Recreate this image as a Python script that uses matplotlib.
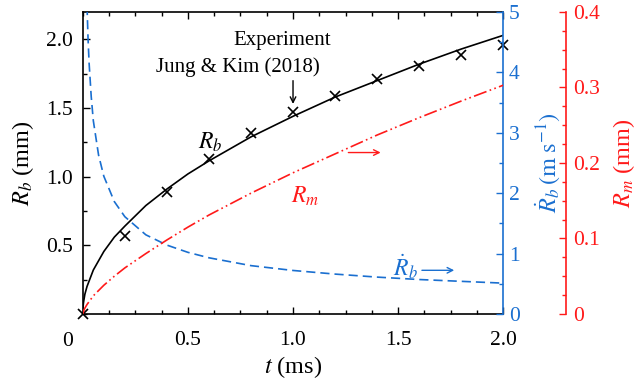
import matplotlib.pyplot as plt
from matplotlib.ticker import MultipleLocator

plt.rcParams['font.family'] = 'Liberation Serif'
plt.rcParams['mathtext.fontset'] = 'stix'

# bubble radius R_b (mm), model curve
t = [0, 0.001, 0.003, 0.005, 0.01, 0.02, 0.05, 0.1, 0.15, 0.2, 0.3, 0.4,
     0.5, 0.6, 0.8, 1.0, 1.2, 1.4, 1.6, 1.8, 2.0]
rb = [0, 0.046, 0.079, 0.10, 0.145, 0.20, 0.32, 0.455, 0.56, 0.64, 0.79, 0.91,
      1.02, 1.115, 1.29, 1.44, 1.58, 1.70, 1.82, 1.93, 2.03]
# R_m (mm), right red axis
rm = [0, 0.0012, 0.0026, 0.0048, 0.0078, 0.0125, 0.024, 0.038, 0.050, 0.061, 0.080, 0.098,
      0.115, 0.131, 0.160, 0.187, 0.212, 0.237, 0.260, 0.282, 0.303]
# bubble growth rate dR_b/dt (m/s)
t_dot = [0.02, 0.025, 0.03, 0.04, 0.05, 0.075, 0.1, 0.15, 0.2, 0.3, 0.4, 0.5,
         0.6, 0.8, 1.0, 1.2, 1.4, 1.6, 1.8, 2.0]
rb_dot = [5.1, 4.55, 4.15, 3.6, 3.2, 2.63, 2.28, 1.86, 1.61, 1.31, 1.14, 1.02,
          0.93, 0.80, 0.72, 0.66, 0.61, 0.57, 0.54, 0.51]
# Jung & Kim (2018) experiment
t_exp = [0, 0.2, 0.4, 0.6, 0.8, 1.0, 1.2, 1.4, 1.6, 1.8, 2.0]
rb_exp = [0, 0.57, 0.89, 1.13, 1.32, 1.47, 1.59, 1.71, 1.81, 1.89, 1.96]

blue = '#1a6fd0'
red = '#ff1a1a'
tfs = 15.5   # tick label size
lfs = 17.5   # axis label size

fig = plt.figure(figsize=(6.37, 3.81), dpi=100)
ax = fig.add_axes([0.130, 0.176, 0.660, 0.7925])
ax2 = ax.twinx()
ax3 = ax.twinx()

ax.plot(t, rb, color='black', lw=1.2)
ax.plot(t_exp, rb_exp, ls='none', marker='x', ms=7, mew=1.2, color='black', clip_on=False)
ax2.plot(t_dot, rb_dot, color=blue, lw=1.2, ls=(0, (5.5, 3)))
ax3.plot(t, rm, color=red, lw=1.2, ls=(0, (8, 2, 1, 2, 1, 2)))

ax.set_xlim(0, 2.0)
ax.set_ylim(0, 2.2)
ax2.set_ylim(0, 5)
ax3.set_ylim(0, 0.4)

ax.xaxis.set_minor_locator(MultipleLocator(0.125))
ax.yaxis.set_minor_locator(MultipleLocator(0.25))
ax.set_xticks([0.5, 1.0, 1.5, 2.0])
ax.set_yticks([0.5, 1.0, 1.5, 2.0])
ax.set_xticklabels(['0.5', '1.0', '1.5', '2.0'])
ax.set_yticklabels(['0.5', '1.0', '1.5', '2.0'])
ax2.yaxis.set_major_locator(MultipleLocator(1))
ax2.yaxis.set_minor_locator(MultipleLocator(0.5))
ax3.yaxis.set_minor_locator(MultipleLocator(0.025))
ax3.set_yticks([0, 0.1, 0.2, 0.3, 0.4])
ax3.set_yticklabels(['0', '0.1', '0.2', '0.3', '0.4'])

ax.tick_params(which='both', direction='in', top=True, right=False, labelsize=tfs, width=1)
ax.tick_params(which='major', length=5)
ax.tick_params(which='minor', length=3)
ax.tick_params(axis='x', pad=12)
ax.tick_params(axis='y', pad=7)
ax2.tick_params(which='both', direction='in', colors=blue, labelsize=tfs, width=1, pad=4)
ax2.tick_params(which='major', length=5)
ax2.tick_params(which='minor', length=3)
ax3.tick_params(which='both', direction='in', colors=red, labelsize=tfs, width=1, pad=5)
ax3.tick_params(which='major', length=5)
ax3.tick_params(which='minor', length=3)

for s in ['left', 'bottom', 'top']:
    ax.spines[s].set_linewidth(1.2)
ax.spines['right'].set_visible(False)
for s in ['left', 'bottom', 'top']:
    ax2.spines[s].set_visible(False)
    ax3.spines[s].set_visible(False)
ax2.spines['right'].set_color(blue)
ax2.spines['right'].set_linewidth(1.2)
ax3.spines['right'].set_position(('axes', 1.15))
ax3.spines['right'].set_color(red)
ax3.spines['right'].set_linewidth(1.2)

ax.text(-0.036, -0.092, '0', transform=ax.transAxes, fontsize=tfs, ha='center', va='center')

ax.set_xlabel('$t$ (ms)', fontsize=lfs, labelpad=3)
ax.set_ylabel('$R_b$ (mm)', fontsize=lfs, labelpad=7)
ax2.set_ylabel(r'$\dot{R}_b\,(\mathrm{m\ s^{-1}})$', fontsize=lfs, color=blue, labelpad=10)
ax3.set_ylabel('$R_m$ (mm)', fontsize=lfs, color=red, labelpad=8)

# annotations
ax.text(0.95, 1.99, 'Experiment', fontsize=15, ha='center', va='center')
ax.text(0.74, 1.80, 'Jung & Kim (2018)', fontsize=15, ha='center', va='center')
ax.annotate('', xy=(1.0, 1.51), xytext=(1.0, 1.72),
            arrowprops=dict(arrowstyle='->', color='black', lw=1.0))
ax.text(0.605, 1.25, '$R_b$', fontsize=17, ha='center', va='center')
ax.text(1.06, 0.86, '$R_m$', fontsize=17, ha='center', va='center', color=red)
ax.annotate('', xy=(1.43, 1.176), xytext=(1.25, 1.176),
            arrowprops=dict(arrowstyle='->', color=red, lw=1.0))
ax.text(1.535, 0.34, r'$\dot{R}_b$', fontsize=17, ha='center', va='center', color=blue)
ax.annotate('', xy=(1.78, 0.318), xytext=(1.60, 0.318),
            arrowprops=dict(arrowstyle='->', color=blue, lw=1.0))

fig.savefig('out.png', dpi=100)
